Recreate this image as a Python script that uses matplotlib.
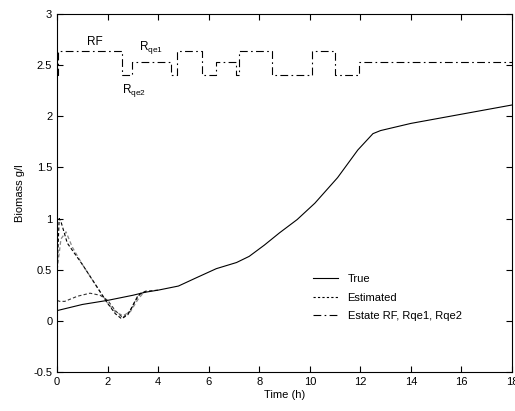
import matplotlib
matplotlib.use("Agg")
import matplotlib.pyplot as plt
from matplotlib.lines import Line2D

plt.rcParams['font.family'] = ['Liberation Sans', 'DejaVu Sans']
plt.rcParams['font.size'] = 8

# ---------------- data ----------------
t_true = [0, 1, 2, 3, 3.5, 4, 4.8, 5.5, 6.3, 7.1, 7.6, 8.2, 8.8, 9.5, 10.2,
          11.1, 11.9, 12.5, 12.8, 14, 16, 18]
x_true = [0.10, 0.16, 0.20, 0.25, 0.28, 0.30, 0.34, 0.42, 0.51, 0.57, 0.63,
          0.74, 0.86, 0.99, 1.15, 1.40, 1.67, 1.83, 1.86, 1.93, 2.02, 2.11]

# estimate starting low
t_est1 = [0, 0.1, 0.3, 0.8, 1.3, 1.7, 2.0, 2.3, 2.6, 2.9, 3.2, 3.5, 4.0]
x_est1 = [0.20, 0.19, 0.19, 0.24, 0.27, 0.25, 0.20, 0.10, 0.03, 0.10, 0.25,
          0.29, 0.30]

# estimate starting high
t_est2 = [0, 0.08, 0.15, 0.4, 1.0, 1.5, 2.0, 2.3, 2.55, 2.8, 3.1, 3.3, 3.6]
x_est2 = [0.50, 1.00, 0.97, 0.76, 0.55, 0.36, 0.17, 0.07, 0.02, 0.06, 0.20,
          0.27, 0.29]

# second high-start estimate (grey)
t_est3 = [0, 0.15, 0.35, 0.6, 1.0, 1.5, 2.0, 2.3, 2.6, 2.9, 3.2, 3.4]
x_est3 = [0.50, 0.80, 0.87, 0.72, 0.55, 0.36, 0.17, 0.09, 0.05, 0.09, 0.21,
          0.27]

# discrete state RF / Rqe1 / Rqe2
t_state = [0, 0.05, 2.55, 2.95, 4.5, 4.75, 5.72, 6.3, 7.06, 7.2, 8.5, 10.1,
           11.0, 11.95, 18]
x_state = [2.40, 2.64, 2.40, 2.53, 2.40, 2.64, 2.40, 2.53, 2.40, 2.64, 2.40,
           2.64, 2.40, 2.53, 2.53]

x_ticks = [0, 2, 4, 6, 8, 10, 12, 14, 16, 18]
y_ticks = [-0.5, 0, 0.5, 1, 1.5, 2, 2.5, 3]
y_ticklabels = ['-0.5', '0', '0.5', '1', '1.5', '2', '2.5', '3']

# ---------------- plot ----------------
fig = plt.figure(figsize=(5.15, 4.11), dpi=100)
ax = fig.add_axes([0.111, 0.095, 0.883, 0.871])

dashdot = (0, (7, 3, 1.5, 3))
ax.plot(t_est3, x_est3, color='#888888', lw=0.9, linestyle=(0, (3, 2)))
ax.plot(t_est1, x_est1, color='#333333', lw=0.8, linestyle=(0, (3, 2)))
ax.plot(t_est2, x_est2, color='black', lw=0.8, linestyle=(0, (3, 2)))
ax.plot(t_true, x_true, color='black', lw=0.8)
ax.plot(t_state, x_state, color='black', lw=0.8, linestyle=dashdot,
        drawstyle='steps-post')

ax.text(1.2, 2.67, 'RF', fontsize=8.5, va='bottom')
ax.text(3.24, 2.65, r'R$_{\mathregular{qe1}}$', fontsize=8.5, va='baseline')
ax.text(2.57, 2.23, r'R$_{\mathregular{qe2}}$', fontsize=8.5, va='baseline')

ax.set_xlim(0, 18)
ax.set_ylim(-0.5, 3)
ax.set_xticks(x_ticks)
ax.set_xticklabels([str(v) for v in x_ticks])
ax.set_yticks(y_ticks)
ax.set_yticklabels(y_ticklabels)
ax.tick_params(direction='in', top=True, right=True, length=4, width=0.8,
               labelsize=8)
for s in ax.spines.values():
    s.set_linewidth(0.8)

ax.set_xlabel('Time (h)', fontsize=8, labelpad=2)
ax.set_ylabel('Biomass g/l', fontsize=8, labelpad=6)

handles = [Line2D([], [], color='black', lw=0.8),
           Line2D([], [], color='black', lw=0.8, linestyle=(0, (2, 2))),
           Line2D([], [], color='black', lw=0.8, linestyle=dashdot)]
ax.legend(handles, ['True', 'Estimated', 'Estate RF, Rqe1, Rqe2'],
          loc='upper left', bbox_to_anchor=(0.553, 0.285), frameon=False,
          fontsize=8, handlelength=2.2, handletextpad=0.9, labelspacing=0.75,
          borderaxespad=0)

fig.savefig('out.png', dpi=100)
